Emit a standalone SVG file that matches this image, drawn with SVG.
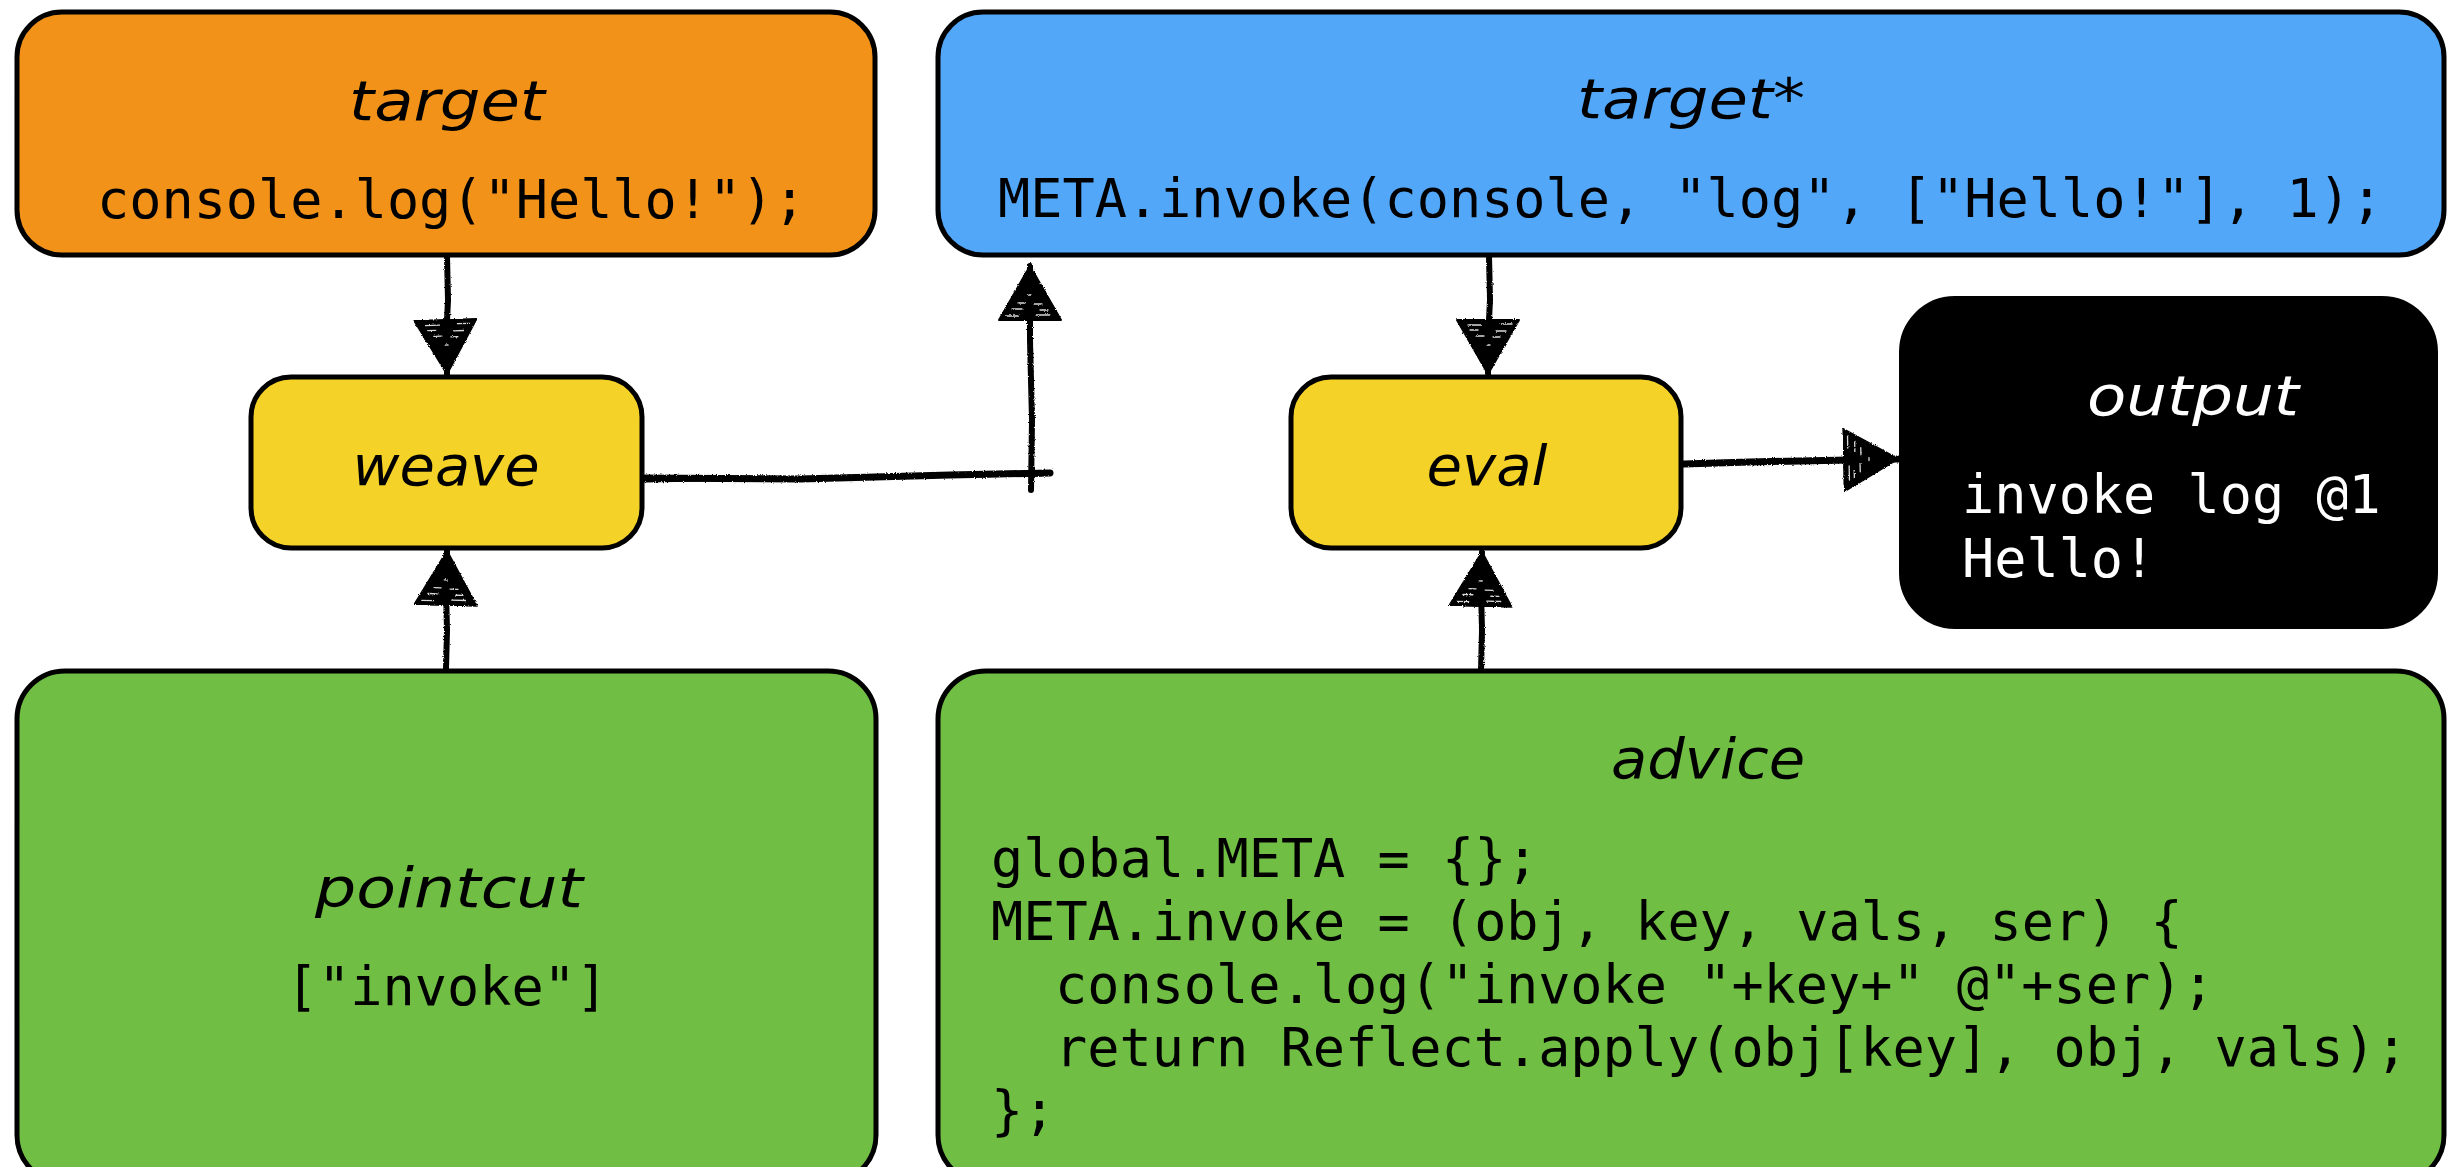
<svg xmlns="http://www.w3.org/2000/svg" width="2460" height="1167" viewBox="0 0 2460 1167">
  <style>
    .box { stroke: #000; stroke-width: 5; }
    .orange { fill: #F29219; }
    .blue { fill: #52A7F9; }
    .yellow { fill: #F5D227; }
    .green { fill: #70BE43; }
    .dark { fill: #000; stroke: #000; stroke-width: 2; }
    .title { font-family: "DejaVu Sans", "Liberation Sans", sans-serif; font-style: italic; font-size: 56px; fill: #000; text-anchor: middle; }
    .code { font-family: "DejaVu Sans Mono", "Liberation Mono", monospace; font-size: 53.5px; fill: #000; }
    .light { fill: #fff; }
    .wire { fill: none; stroke: #000; stroke-linecap: round; stroke-linejoin: round; }
  </style>
  <defs>
    <!-- slight jitter so connectors look hand-drawn -->
    <filter id="rough" filterUnits="userSpaceOnUse" x="0" y="0" width="2460" height="1167">
      <feTurbulence type="fractalNoise" baseFrequency="0.9" numOctaves="1" seed="7" result="n"/>
      <feDisplacementMap in="SourceGraphic" in2="n" scale="3" xChannelSelector="R" yChannelSelector="G"/>
    </filter>
    <marker id="head" viewBox="0 0 56 64" refX="55" refY="32" markerWidth="56" markerHeight="64" markerUnits="userSpaceOnUse" orient="auto">
      <path d="M1,1 L55,32 L1,63 Z" fill="#000" stroke="#000" stroke-width="2" stroke-linejoin="round"/>
      <g stroke="#fff" stroke-width="1.3" stroke-linecap="round" opacity="0.85">
        <line x1="5" y1="8" x2="5" y2="20"/>
        <line x1="6" y1="38" x2="6" y2="52"/>
        <line x1="12" y1="14" x2="12" y2="24"/>
        <line x1="11" y1="42" x2="11" y2="50"/>
        <line x1="18" y1="20" x2="18" y2="27"/>
        <line x1="17" y1="36" x2="17" y2="44"/>
        <line x1="26" y1="30" x2="26" y2="33"/>
      </g>
    </marker>
  </defs>

  <rect width="2460" height="1167" fill="#fff"/>

  <!-- connectors -->
  <g id="connectors" filter="url(#rough)">
    <!-- target -> weave -->
    <path class="wire" stroke-width="6" d="M447,256 L448,300 L446,340 L447,374" marker-end="url(#head)"/>
    <!-- pointcut -> weave -->
    <path class="wire" stroke-width="6" d="M446,669 L447,630 L446,590 L447,551" marker-end="url(#head)"/>
    <!-- weave -> target* -->
    <path class="wire" stroke-width="7" d="M638,478 L800,479 L950,475 L1050,473"/>
    <path class="wire" stroke-width="3" d="M645,481 L900,477 L1040,475"/>
    <path class="wire" stroke-width="6" d="M1031,490 L1032,420 L1030,340 L1030,266" marker-end="url(#head)"/>
    <!-- target* -> eval -->
    <path class="wire" stroke-width="6" d="M1489,256 L1490,300 L1488,340 L1488,374" marker-end="url(#head)"/>
    <!-- advice -> eval -->
    <path class="wire" stroke-width="6" d="M1481,671 L1482,630 L1481,590 L1482,552" marker-end="url(#head)"/>
    <!-- eval -> output -->
    <path class="wire" stroke-width="7" d="M1684,464 L1750,462 L1800,461 L1898,459" marker-end="url(#head)"/>
  </g>

  <!-- nodes -->
  <g id="target">
    <rect class="box orange" x="17" y="12" width="858" height="243" rx="45" ry="45"/>
    <text class="title" x="447" y="120" textLength="196" lengthAdjust="spacingAndGlyphs">target</text>
    <text class="code" x="97" y="218">console.log("Hello!");</text>
  </g>

  <g id="target-star">
    <rect class="box blue" x="938" y="12" width="1506" height="243" rx="45" ry="45"/>
    <text class="title" x="1691" y="118" textLength="228" lengthAdjust="spacingAndGlyphs">target*</text>
    <text class="code" x="998" y="217">META.invoke(console, "log", ["Hello!"], 1);</text>
  </g>

  <g id="weave">
    <rect class="box yellow" x="251" y="377" width="391" height="171" rx="40" ry="40"/>
    <text class="title" x="446" y="485" textLength="187" lengthAdjust="spacingAndGlyphs">weave</text>
  </g>

  <g id="eval">
    <rect class="box yellow" x="1291" y="377" width="390" height="171" rx="40" ry="40"/>
    <text class="title" x="1487" y="485" textLength="121" lengthAdjust="spacingAndGlyphs">eval</text>
  </g>

  <g id="output">
    <rect class="dark" x="1900" y="297" width="537" height="331" rx="55" ry="55"/>
    <text class="title light" x="2193" y="415" textLength="212" lengthAdjust="spacingAndGlyphs">output</text>
    <text class="code light" x="1962" y="513">invoke log @1</text>
    <text class="code light" x="1962" y="577">Hello!</text>
  </g>

  <g id="pointcut">
    <rect class="box green" x="17" y="671" width="859" height="512" rx="48" ry="48"/>
    <text class="title" x="449" y="907" textLength="268" lengthAdjust="spacingAndGlyphs">pointcut</text>
    <text class="code" x="447" y="1005" text-anchor="middle">["invoke"]</text>
  </g>

  <g id="advice">
    <rect class="box green" x="938" y="671" width="1506" height="512" rx="48" ry="48"/>
    <text class="title" x="1708" y="778" textLength="194" lengthAdjust="spacingAndGlyphs">advice</text>
    <text class="code" x="991" y="877">global.META = {};</text>
    <text class="code" x="991" y="940">META.invoke = (obj, key, vals, ser) {</text>
    <text class="code" x="1055" y="1003">console.log("invoke "+key+" @"+ser);</text>
    <text class="code" x="1055" y="1066">return Reflect.apply(obj[key], obj, vals);</text>
    <text class="code" x="991" y="1129">};</text>
  </g>
</svg>
